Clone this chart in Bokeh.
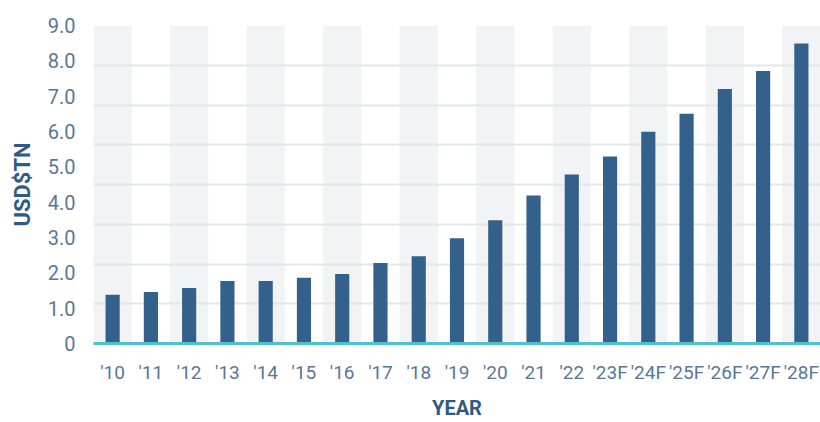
from bokeh.plotting import figure
from bokeh.models import FactorRange, FixedTicker, Range1d
from bokeh.embed import file_html
from bokeh.resources import INLINE

years = ["'10", "'11", "'12", "'13", "'14", "'15", "'16", "'17", "'18", "'19",
         "'20", "'21", "'22", "'23F", "'24F", "'25F", "'26F", "'27F", "'28F"]
values = [1.38, 1.46, 1.57, 1.77, 1.77, 1.86, 1.97, 2.28, 2.47, 2.98,
          3.49, 4.19, 4.78, 5.29, 5.99, 6.50, 7.20, 7.71, 8.49]
y_ticks = [0, 1, 2, 3, 4, 5, 6, 7, 8, 9]
y_tick_labels = ["0", "1.0", "2.0", "3.0", "4.0", "5.0", "6.0", "7.0", "8.0", "9.0"]
y_max = 9
grid_count = 8

BAR = "#33618b"
TICK = "#587896"
TITLE = "#2e5a84"

p = figure(width=820, height=422, output_backend="svg", toolbar_location=None,
           x_range=FactorRange(*years, range_padding=0),
           y_range=Range1d(0, y_max))
p.min_border_left = 93
p.min_border_right = 0
p.min_border_top = 25
p.min_border_bottom = 76
p.outline_line_color = None
p.background_fill_color = "white"
p.border_fill_color = "white"

# alternating bands
bands = p.vbar(x=years[::2], top=y_max, bottom=0, width=1.0,
               fill_color="#f2f3f5", line_color=None)
bands.level = "image"

p.vbar(x=years, top=values, width=0.37, fill_color=BAR, line_color=None)

p.xgrid.visible = False
p.ygrid.ticker = FixedTicker(ticks=[y_max * k / grid_count for k in range(grid_count + 1)])
p.ygrid.grid_line_color = "#e3e6ea"
p.ygrid.grid_line_width = 2

p.yaxis.ticker = FixedTicker(ticks=y_ticks)
p.yaxis.major_label_overrides = {t: l for t, l in zip(y_ticks, y_tick_labels)}
p.yaxis.axis_line_color = None
p.yaxis.major_tick_line_color = None
p.yaxis.minor_tick_line_color = None
p.yaxis.major_label_standoff = 12
p.yaxis.major_label_text_font = "Roboto"
p.yaxis.major_label_text_font_size = "20px"
p.yaxis.major_label_text_color = TICK
p.yaxis.axis_label = "USD$TN"
p.yaxis.axis_label_text_font = "Roboto"
p.yaxis.axis_label_text_font_style = "bold"
p.yaxis.axis_label_text_font_size = "22px"
p.yaxis.axis_label_text_color = TITLE
p.yaxis.axis_label_standoff = 10

p.xaxis.axis_line_color = "#4fc0cf"
p.xaxis.axis_line_width = 3
p.xaxis.major_tick_line_color = None
p.xaxis.minor_tick_line_color = None
p.xaxis.major_label_standoff = 11
p.xaxis.major_label_text_font = "Roboto"
p.xaxis.major_label_text_font_size = "19px"
p.xaxis.major_label_text_color = TICK
p.xaxis.axis_label = "YEAR"
p.xaxis.axis_label_text_font = "Roboto"
p.xaxis.axis_label_text_font_style = "bold"
p.xaxis.axis_label_text_font_size = "20px"
p.xaxis.axis_label_text_color = TITLE
p.xaxis.axis_label_standoff = 9

open("out.html", "w").write(file_html(p, INLINE))
